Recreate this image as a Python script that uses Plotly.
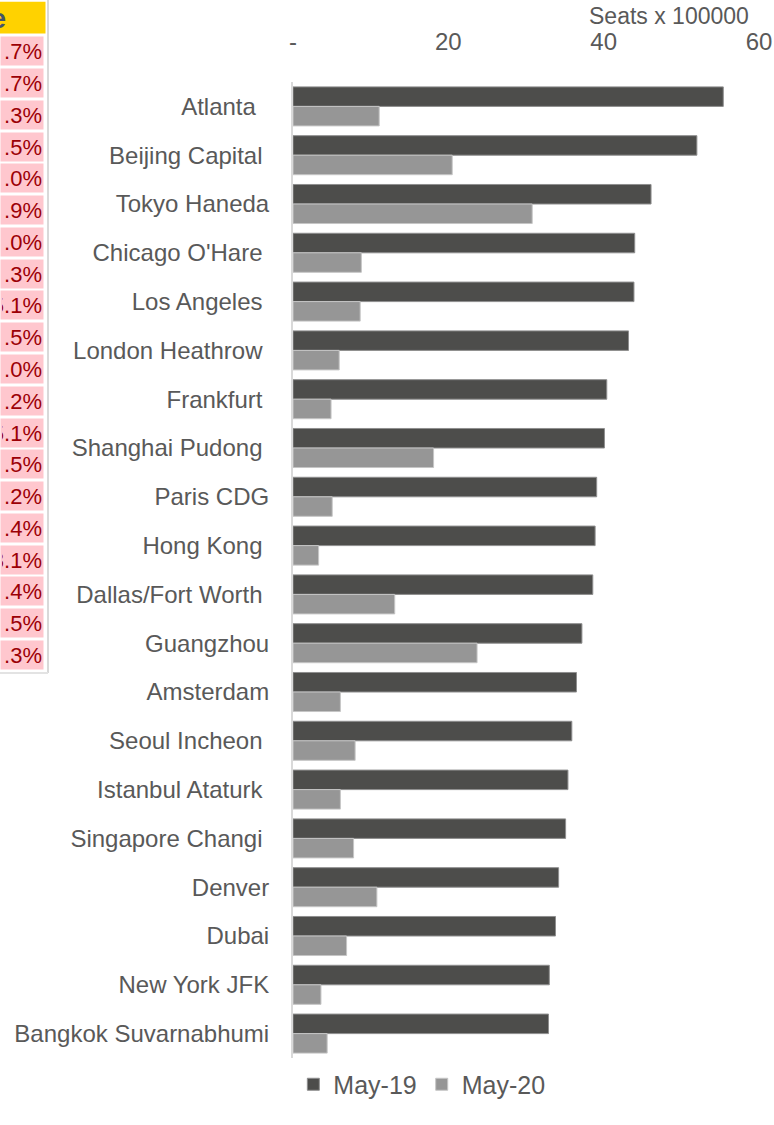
import plotly.graph_objects as go

# ---------------- data ----------------
categories = ["Atlanta", "Beijing Capital", "Tokyo Haneda", "Chicago O'Hare", "Los Angeles",
              "London Heathrow", "Frankfurt", "Shanghai Pudong", "Paris CDG", "Hong Kong",
              "Dallas/Fort Worth", "Guangzhou", "Amsterdam", "Seoul Incheon", "Istanbul Ataturk",
              "Singapore Changi", "Denver", "Dubai", "New York JFK", "Bangkok Suvarnabhumi"]
# number of trailing spaces in the original labels
label_pad = [2, 1, 0, 1, 1, 1, 1, 1, 0, 1, 1, 0, 0, 1, 1, 1, 0, 0, 0, 0]
may19 = [55.4, 52.0, 46.1, 44.0, 43.9, 43.2, 40.4, 40.1, 39.1, 38.9,
         38.6, 37.2, 36.5, 35.9, 35.4, 35.1, 34.2, 33.8, 33.0, 32.9]
may20 = [11.1, 20.5, 30.8, 8.8, 8.65, 5.95, 4.9, 18.1, 5.05, 3.3,
         13.1, 23.7, 6.1, 8.0, 6.1, 7.8, 10.8, 6.9, 3.6, 4.4]
series_names = ["May-19", "May-20"]
x_tickvals = [0, 20, 40, 60]
x_ticktext = ["-", "20", "40", "60"]
axis_title = "Seats x 100000"

# cropped table fragment visible at left edge
table_header = "e"
table_fragments = [".7%", ".7%", ".3%", ".5%", ".0%", ".9%", ".0%", ".3%", "5.1%", ".5%",
                   ".0%", ".2%", "5.1%", ".5%", ".2%", ".4%", "3.1%", ".4%", ".5%", ".3%"]

# ---------------- layout constants ----------------
W, H = 774, 1125
L, R, T, B = 293, 15, 82, 67
PW, PH = W - L - R, H - T - B
TEXT = "#595959"
FONT = "Liberation Sans, Arial, sans-serif"


def px_x(px):
    return (px - L) / PW


def px_y(py):
    return (H - B - py) / PH


ticktext = [c + "\u00a0" * p for c, p in zip(categories, label_pad)]

fig = go.Figure()
fig.add_trace(go.Bar(y=categories, x=may19, name=series_names[0], orientation="h",
                     marker=dict(color="#4d4d4b", line=dict(color="#8e8e8e", width=1))))
fig.add_trace(go.Bar(y=categories, x=may20, name=series_names[1], orientation="h",
                     marker=dict(color="#969696", line=dict(color="#c6c6c6", width=1))))

fig.update_layout(
    width=W, height=H,
    margin=dict(l=L, r=R, t=T, b=B, pad=0, autoexpand=False),
    paper_bgcolor="white", plot_bgcolor="white",
    barmode="group", bargap=0.2, bargroupgap=0,
    font=dict(family=FONT, size=24, color=TEXT),
    showlegend=True,
    legend=dict(orientation="h", xref="container", yref="container",
                x=0.545, y=0.036, xanchor="center", yanchor="middle",
                font=dict(size=25, color=TEXT), itemclick=False),
    xaxis=dict(side="top", range=[0, 60], tickvals=x_tickvals, ticktext=x_ticktext,
               showgrid=False, zeroline=False, showline=False, ticks="", automargin=False,
               ticklabelstandoff=26, tickfont=dict(size=24, color=TEXT)),
    yaxis=dict(autorange="reversed", tickvals=categories, ticktext=ticktext,
               showgrid=False, zeroline=False, showline=True, linecolor="#d9d9d9",
               linewidth=2, ticks="", ticklabelstandoff=17, automargin=False,
               tickfont=dict(size=24, color=TEXT)),
)

annotations = [dict(text=axis_title, xref="paper", yref="paper", x=px_x(751), y=px_y(16),
                    xanchor="right", yanchor="middle", showarrow=False,
                    font=dict(size=23, color=TEXT))]

# header cell (yellow) of cropped table: only the last letter is visible
annotations.append(dict(text="<b>" + table_header + "</b>", xref="paper", yref="paper",
                        x=px_x(7), y=px_y(19), xanchor="right", yanchor="middle",
                        showarrow=False, borderpad=0,
                        font=dict(size=27, color="#44546a")))
for i, frag in enumerate(table_fragments):
    cy = 51.3 + 31.77 * i
    annotations.append(dict(text=frag, xref="paper", yref="paper",
                            x=px_x(44.3), y=px_y(cy), xanchor="right", yanchor="middle",
                            width=40, height=26, borderpad=1, align="right", valign="middle",
                            bgcolor="#ffc7ce", showarrow=False,
                            font=dict(size=22, color="#9c0006")))
fig.update_layout(annotations=annotations)

fig.add_shape(type="rect", xref="paper", yref="paper", x0=px_x(0), x1=px_x(45.5),
              y0=px_y(1.7), y1=px_y(33.5), fillcolor="#ffd200", line=dict(width=0),
              layer="below")
fig.add_shape(type="line", xref="paper", yref="paper", x0=px_x(48), x1=px_x(48),
              y0=px_y(0), y1=px_y(673), line=dict(color="#d9d9d9", width=2))
fig.add_shape(type="line", xref="paper", yref="paper", x0=px_x(0), x1=px_x(48),
              y0=px_y(673), y1=px_y(673), line=dict(color="#e3e3e3", width=2))

fig.write_html("out.html", config={"displayModeBar": False},
               post_script="document.body.style.margin='0';")
